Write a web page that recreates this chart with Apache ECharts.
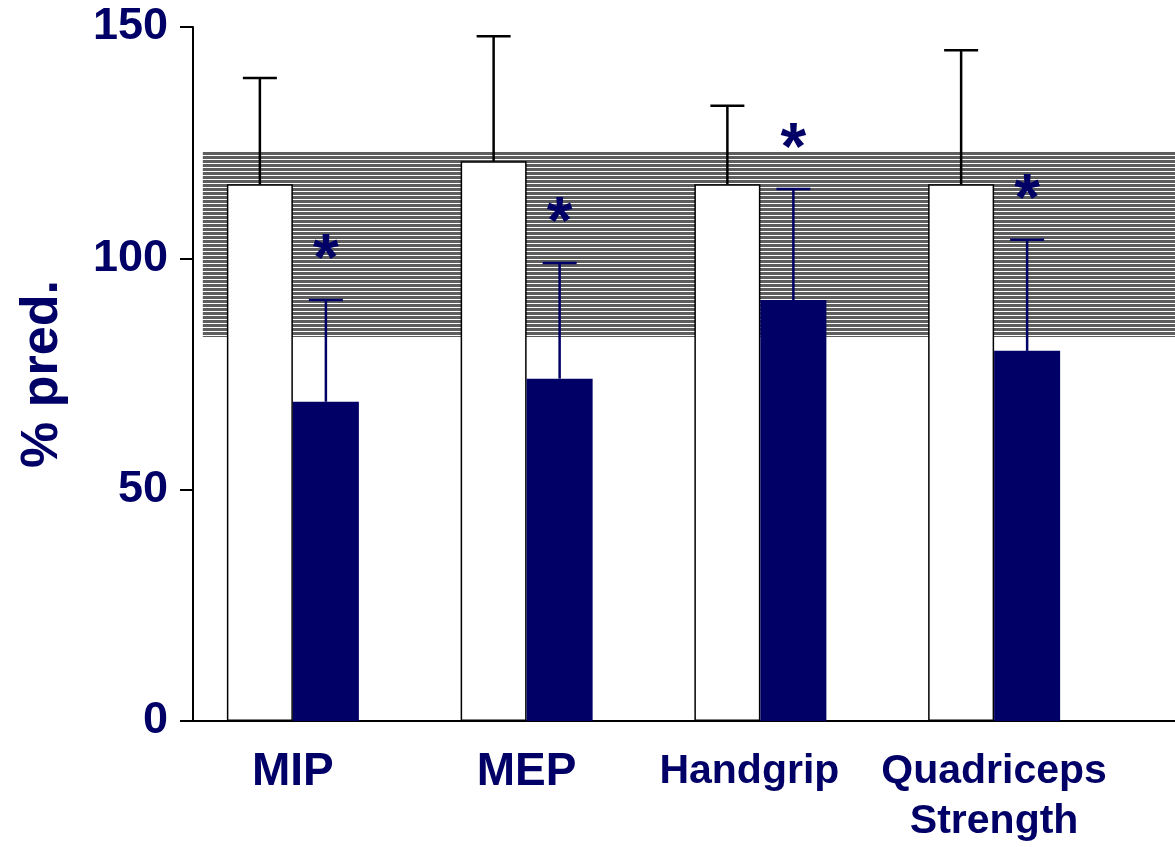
<!DOCTYPE html>
<html>
<head>
<meta charset="utf-8">
<script src="https://cdn.jsdelivr.net/npm/echarts@6/dist/echarts.min.js"></script>
<style>
  html, body { margin: 0; padding: 0; background: #fff; }
  #chart { width: 1175px; height: 847px; }
</style>
</head>
<body>
<div id="chart"></div>
<script>
// values (% predicted)
var categories = ['MIP', 'MEP', 'Handgrip', 'Quadriceps\nStrength']
var controlMean = [116, 121, 116, 116]
var controlUpper = [139, 148, 133, 145]
var patientMean = [69, 74, 91, 80]
var patientUpper = [91, 99, 115, 104]
var patientStar = ['*', '*', '*', '*']
var normalRange = [83, 123]
var yTicks = [0, 50, 100, 150]

var NAVY = '#000066'
var FONT = '"Liberation Sans", Arial, sans-serif'
var BAR_W = 66

// horizontal-line hatch for the normal range band
function hatch() {
  var c = document.createElement('canvas')
  c.width = 4
  c.height = 4
  var ctx = c.getContext('2d')
  ctx.fillStyle = '#ffffff'
  ctx.fillRect(0, 0, 4, 4)
  ctx.fillStyle = '#5e5e5e'
  ctx.fillRect(0, 0, 4, 3)
  return c
}

function errorBars(side, color, stars) {
  return function (params, api) {
    var i = api.value(0)
    var lo = api.coord([i, api.value(1)])
    var hi = api.coord([i, api.value(2)])
    var x = lo[0] + side * BAR_W / 2
    var kids = [
      { type: 'line', shape: { x1: x, y1: lo[1], x2: x, y2: hi[1] }, style: { stroke: color, lineWidth: 2.5 } },
      { type: 'line', shape: { x1: x - 17, y1: hi[1], x2: x + 17, y2: hi[1] }, style: { stroke: color, lineWidth: 2.5 } }
    ]
    if (stars && stars[params.dataIndex]) {
      kids.push({
        type: 'text',
        style: {
          x: x, y: hi[1] - 38, text: stars[params.dataIndex],
          fill: NAVY, font: 'bold 66px ' + FONT, align: 'center', verticalAlign: 'middle'
        }
      })
    }
    return { type: 'group', children: kids }
  }
}

function errData(upper, mean) {
  return categories.map(function (c, i) { return [i, mean[i], upper[i]] })
}

var chart = echarts.init(document.getElementById('chart'))
chart.setOption({
  animation: false,
  backgroundColor: '#fff',
  grid: [
    { left: 193, right: 0, top: 27, bottom: 126 },
    { left: 176, right: 64, top: 27, bottom: 126 }
  ],
  xAxis: [
    {
      gridIndex: 0, type: 'value', min: 0, max: 100,
      axisLine: { show: true, lineStyle: { color: '#000', width: 2 } },
      axisTick: { show: false }, axisLabel: { show: false }, splitLine: { show: false }
    },
    {
      gridIndex: 1, type: 'category', data: categories,
      axisLine: { show: false }, axisTick: { show: false },
      axisLabel: {
        margin: 26, interval: 0,
        formatter: function (v) {
          if (v === 'MIP' || v === 'MEP') return '{big|' + v + '}'
          if (v === 'Handgrip') return '{hg|' + v + '}'
          return v.split('\n').map(function (s) { return '{sm|' + s + '}' }).join('\n')
        },
        rich: {
          big: { fontSize: 46, fontWeight: 'bold', color: NAVY, fontFamily: FONT, lineHeight: 50 },
          hg: { fontSize: 41, fontWeight: 'bold', color: NAVY, fontFamily: FONT, lineHeight: 50, padding: [0, 22, 0, 0] },
          sm: { fontSize: 41, fontWeight: 'bold', color: NAVY, fontFamily: FONT, lineHeight: 50 }
        }
      }
    }
  ],
  yAxis: [
    {
      gridIndex: 0, type: 'value', min: yTicks[0], max: yTicks[yTicks.length - 1], interval: 50,
      name: '% pred.', nameLocation: 'middle', nameGap: 124,
      nameTextStyle: { fontSize: 52, fontWeight: 'bold', color: NAVY, fontFamily: FONT },
      axisLine: { show: true, lineStyle: { color: '#000', width: 2 } },
      axisTick: { show: true, length: 13, lineStyle: { color: '#000', width: 2 } },
      axisLabel: { margin: 25, fontSize: 45, fontWeight: 'bold', color: NAVY, fontFamily: FONT },
      splitLine: { show: false }
    },
    {
      gridIndex: 1, type: 'value', min: yTicks[0], max: yTicks[yTicks.length - 1], show: false
    }
  ],
  series: [
    {
      type: 'line', xAxisIndex: 0, yAxisIndex: 0, data: [], z: 1, silent: true,
      markArea: {
        silent: true,
        itemStyle: { color: { image: hatch(), repeat: 'repeat' }, opacity: 1 },
        data: [[{ xAxis: 1, yAxis: normalRange[1] }, { xAxis: 100, yAxis: normalRange[0] }]]
      }
    },
    {
      name: 'control', type: 'bar', xAxisIndex: 1, yAxisIndex: 1,
      barWidth: BAR_W, barGap: '0%', z: 2,
      itemStyle: { color: '#ffffff', borderColor: '#000', borderWidth: 1.5 },
      data: controlMean
    },
    {
      name: 'patients', type: 'bar', xAxisIndex: 1, yAxisIndex: 1,
      barWidth: BAR_W, barGap: '0%', z: 2,
      itemStyle: { color: NAVY },
      data: patientMean
    },
    {
      type: 'custom', xAxisIndex: 1, yAxisIndex: 1, z: 3, clip: false,
      renderItem: errorBars(-1, '#000', null),
      data: errData(controlUpper, controlMean)
    },
    {
      type: 'custom', xAxisIndex: 1, yAxisIndex: 1, z: 3, clip: false,
      renderItem: errorBars(1, NAVY, patientStar),
      data: errData(patientUpper, patientMean)
    }
  ]
})
window.addEventListener('resize', function () { chart.resize() })
</script>
</body>
</html>
